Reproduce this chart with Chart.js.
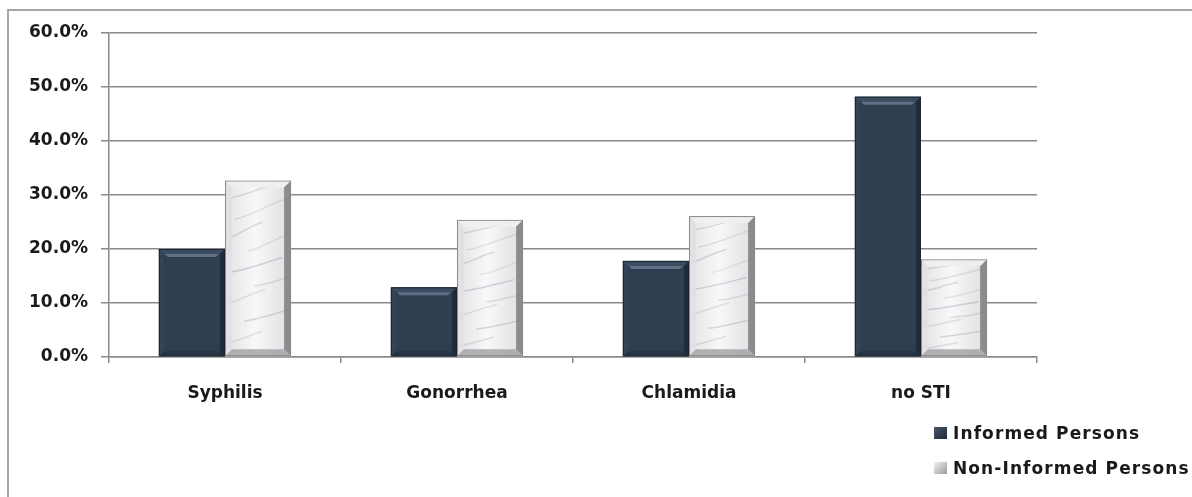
<!DOCTYPE html>
<html>
<head>
<meta charset="utf-8">
<script src="https://cdn.jsdelivr.net/npm/chart.js@4"></script>
<style>
  html, body { margin: 0; padding: 0; background: #fff; overflow: hidden; }
  #wrap { position: relative; width: 1192px; height: 497px; overflow: hidden; }
  #frame { position: absolute; left: 7px; top: 9px; width: 1300px; height: 600px;
           border-left: 2px solid #a6a6a6; border-top: 2px solid #a6a6a6; box-sizing: border-box; }
  #chart { position: absolute; left: 0; top: 0; }
  .legend { position: absolute; left: 934px; font-family: "DejaVu Sans", sans-serif; font-weight: 700;
            font-size: 17px; color: #1a1a1a; letter-spacing: 1.1px; white-space: nowrap; }
  .legend div { display: flex; align-items: center; height: 35px; }
  .legend span.sw { display: inline-block; width: 13px; height: 12px; margin-right: 6px; }
</style>
</head>
<body>
<div id="wrap">
  <div id="frame"></div>
  <canvas id="chart" width="1192" height="497"></canvas>
  <div class="legend" id="legend" style="top:415px"></div>
</div>
<script>
const categories = ['Syphilis', 'Gonorrhea', 'Chlamidia', 'no STI'];
const seriesNames = ['Informed Persons', 'Non-Informed Persons'];
const informed = [20.0, 12.9, 17.8, 48.2];
const nonInformed = [32.7, 25.4, 26.1, 18.1];
const yTicks = [0, 10, 20, 30, 40, 50, 60];

const FONT = '"DejaVu Sans", sans-serif';

// quad helper for the bevel faces
function quad(ctx, pts, fill) {
  ctx.beginPath();
  ctx.moveTo(pts[0][0], pts[0][1]);
  for (let i = 1; i < pts.length; i++) ctx.lineTo(pts[i][0], pts[i][1]);
  ctx.closePath();
  ctx.fillStyle = fill;
  ctx.fill();
}

function bevel(ctx, l, t, r, b, d, c) {
  quad(ctx, [[l, t], [r, t], [r - d, t + d], [l + d, t + d]], c.top);
  quad(ctx, [[l, t], [l + d, t + d], [l + d, b - d], [l, b]], c.left);
  quad(ctx, [[r, t], [r, b], [r - d, b - d], [r - d, t + d]], c.right);
  quad(ctx, [[l, b], [l + d, b - d], [r - d, b - d], [r, b]], c.bottom);
}

// grey veins for the light bars, fixed fractions of the bar box: x0, y0, x1, y1, alpha
const veins = [
  [0.05, 0.10, 0.75, 0.02, 0.22], [0.15, 0.22, 0.95, 0.10, 0.18], [0.00, 0.33, 0.55, 0.24, 0.25],
  [0.35, 0.40, 1.00, 0.30, 0.15], [0.10, 0.52, 0.85, 0.44, 0.28], [0.45, 0.60, 0.95, 0.55, 0.20],
  [0.00, 0.70, 0.60, 0.62, 0.18], [0.30, 0.80, 1.00, 0.73, 0.25], [0.05, 0.92, 0.55, 0.86, 0.2]
];

const barStyle = {
  id: 'barStyle',
  afterDatasetsDraw(chart) {
    const ctx = chart.ctx;
    chart.data.datasets.forEach((ds, i) => {
      chart.getDatasetMeta(i).data.forEach((bar) => {
        const { x, y, base, width } = bar.getProps(['x', 'y', 'base', 'width'], true);
        const l = x - width / 2, r = x + width / 2, t = y, b = base;
        ctx.save();
        if (i === 0) {
          ctx.fillStyle = '#2f3e51';
          ctx.fillRect(l, t, r - l, b - t);
          bevel(ctx, l, t, r, b, 5, { top: '#3d4d61', left: '#334459', right: '#1f2b39', bottom: '#263444' });
          // soft highlight under the top edge
          quad(ctx, [[l + 6, t + 5], [r - 6, t + 5], [r - 9, t + 8], [l + 9, t + 8]], 'rgba(130,145,165,0.6)');
          ctx.strokeStyle = '#1c2633';
          ctx.lineWidth = 1;
          ctx.strokeRect(l + 0.5, t + 0.5, r - l - 1, b - t - 1);
        } else {
          const g = ctx.createLinearGradient(l, 0, r, 0);
          g.addColorStop(0, '#e2e2e4');
          g.addColorStop(0.45, '#f8f8fa');
          g.addColorStop(1, '#dedee0');
          ctx.fillStyle = g;
          ctx.fillRect(l, t, r - l, b - t);
          ctx.beginPath();
          ctx.rect(l, t, r - l, b - t);
          ctx.clip();
          ctx.lineCap = 'round';
          veins.forEach(([x0, y0, x1, y1, a]) => {
            ctx.strokeStyle = `rgba(120,120,128,${a})`;
            ctx.lineWidth = 1.5;
            ctx.beginPath();
            ctx.moveTo(l + x0 * width, t + y0 * (b - t));
            ctx.bezierCurveTo(l + (x0 + 0.2) * width, t + (y0 - 0.01) * (b - t),
              l + (x1 - 0.25) * width, t + (y1 + 0.03) * (b - t),
              l + x1 * width, t + y1 * (b - t));
            ctx.stroke();
          });
          bevel(ctx, l, t, r, b, 7, {
            top: 'rgba(240,240,240,0.9)', left: 'rgba(225,225,228,0.85)',
            right: 'rgba(125,125,128,0.85)', bottom: 'rgba(165,165,168,0.85)'
          });
          ctx.strokeStyle = '#8a8a8a';
          ctx.lineWidth = 1;
          ctx.strokeRect(l + 0.5, t + 0.5, r - l - 1, b - t - 1);
        }
        ctx.restore();
      });
    });
  }
};

new Chart(document.getElementById('chart'), {
  type: 'bar',
  data: {
    labels: categories,
    datasets: [
      { label: seriesNames[0], data: informed, backgroundColor: 'rgba(0,0,0,0)' },
      { label: seriesNames[1], data: nonInformed, backgroundColor: 'rgba(0,0,0,0)' }
    ]
  },
  options: {
    responsive: false,
    animation: false,
    layout: { padding: { left: 0, top: 33, right: 155, bottom: 0 } },
    datasets: { bar: { barPercentage: 1, categoryPercentage: 0.57 } },
    plugins: { legend: { display: false }, tooltip: { enabled: false } },
    scales: {
      x: {
        grid: { drawOnChartArea: false, drawTicks: true, tickLength: 6, color: '#8a8a8a', lineWidth: 1.5 },
        border: { color: '#8a8a8a', width: 1.5 },
        ticks: { color: '#1a1a1a', font: { family: FONT, size: 17, weight: '700' }, padding: 20 },
        afterFit: (s) => { s.height = 497 - 357; }
      },
      y: {
        min: 0, max: 60,
        afterBuildTicks: (s) => { s.ticks = yTicks.map((v) => ({ value: v })); },
        grid: { color: '#8a8a8a', lineWidth: 1.5, tickLength: 8 },
        border: { color: '#8a8a8a', width: 1.5 },
        ticks: { color: '#1a1a1a', font: { family: FONT, size: 17, weight: '700' }, padding: 13,
                 callback: (v) => v.toFixed(1) + '%' },
        afterFit: (s) => { s.width = 109; }
      }
    }
  },
  plugins: [barStyle]
});

// legend rows at the lower right
const swatches = [
  'linear-gradient(135deg,#4a586a,#1e2a38)',
  'linear-gradient(135deg,#f2f2f2,#9a9a9a)'
];
document.getElementById('legend').innerHTML = seriesNames
  .map((n, i) => `<div><span class="sw" style="background:${swatches[i]}"></span>${n}</div>`)
  .join('');
</script>
</body>
</html>
